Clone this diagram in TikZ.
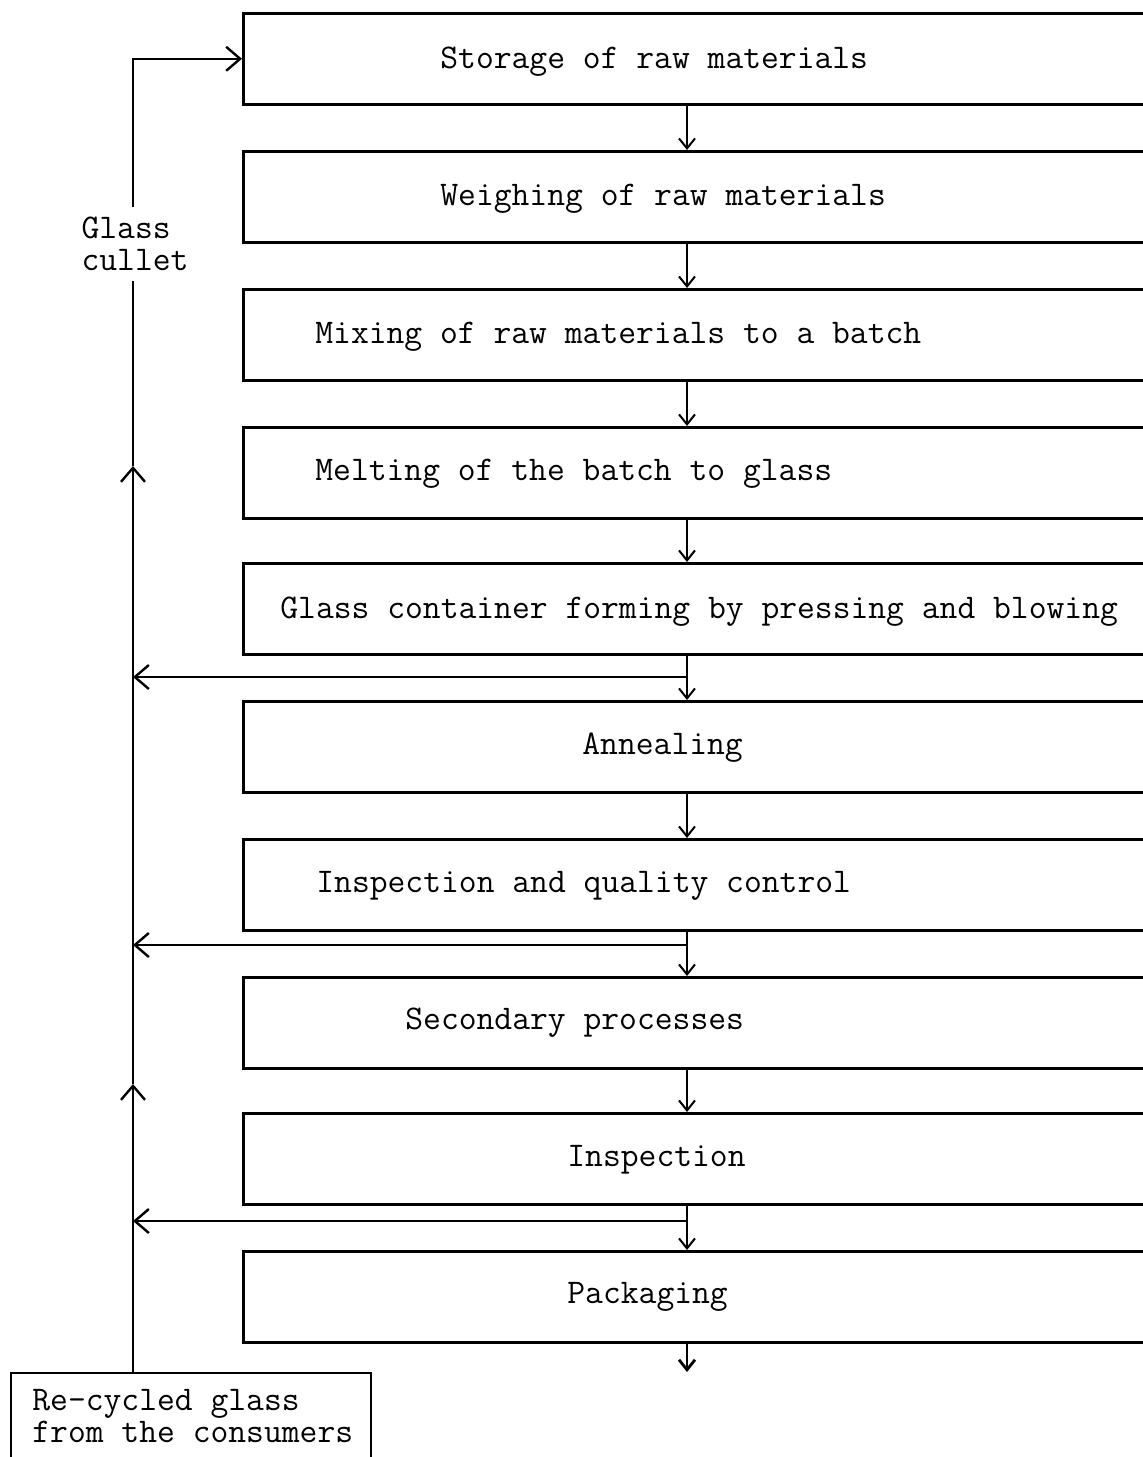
\documentclass[tikz,border=0pt]{standalone}
\usepackage{fontspec}
\usetikzlibrary{arrows.meta}

\tikzset{
    stage/.style={draw, line width=1.3pt, minimum width=504pt, minimum height=45.5pt,
        anchor=north west, inner sep=0pt},
    lbl/.style={font=\ttfamily\fontsize{17.3}{16}\selectfont, anchor=west, inner sep=0pt},
    down/.style={line width=1pt, -{Straight Barb[length=5pt,width=8pt]}},
    back/.style={line width=1.2pt, -{Straight Barb[length=7pt,width=12pt]}},
}

\begin{document}
\begin{tikzpicture}[x=0.5pt,y=-0.5pt]

            \useasboundingbox (0,0) rectangle (1143,1457);
            \clip (0,0) rectangle (1143,1457);

            % process stages, open to the right
            \node[stage] (b1) at (242,12) {};
            \node[lbl] (t1) at (440,62) {Storage of raw materials};
            \node[stage] (b2) at (242,150) {};
            \node[lbl] (t2) at (440,199) {Weighing of raw materials};
            \node[stage] (b3) at (242,288) {};
            \node[lbl] (t3) at (315,337) {Mixing of raw materials to a batch};
            \node[stage] (b4) at (242,426) {};
            \node[lbl] (t4) at (315,474) {Melting of the batch to glass};
            \node[stage] (b5) at (242,562) {};
            \node[lbl] (t5) at (280,612) {Glass container forming by pressing and blowing};
            \node[stage] (b6) at (242,700) {};
            \node[lbl] (t6) at (582,748) {Annealing};
            \node[stage] (b7) at (242,838) {};
            \node[lbl] (t7) at (316,886) {Inspection and quality control};
            \node[stage] (b8) at (242,976) {};
            \node[lbl] (t8) at (405,1023) {Secondary processes};
            \node[stage] (b9) at (242,1112) {};
            \node[lbl] (t9) at (567,1160) {Inspection};
            \node[stage] (b10) at (242,1250) {};
            \node[lbl] (t10) at (567,1297) {Packaging};

            % consumers box, open at the bottom
            \node[draw, line width=1pt, minimum width=180pt, minimum height=60pt,
                anchor=north west, inner sep=0pt] (rc) at (10,1372) {};
            \node[lbl, anchor=north west, align=left] (t11) at (32,1389)
                {Re-cycled glass\\from the consumers};

            \node[lbl, anchor=center, align=left, outer sep=5pt] (gc) at (135,244) {Glass\\cullet};

            \coordinate (ax) at (687,0);
            \coordinate (lx) at (133,0);

            % main flow
            \draw[down] (b1.south -| ax) -- (b2.north -| ax);
            \draw[down] (b2.south -| ax) -- (b3.north -| ax);
            \draw[down] (b3.south -| ax) -- (b4.north -| ax);
            \draw[down] (b4.south -| ax) -- (b5.north -| ax);
            \draw[down] (b5.south -| ax) -- (b6.north -| ax);
            \draw[down] (b6.south -| ax) -- (b7.north -| ax);
            \draw[down] (b7.south -| ax) -- (b8.north -| ax);
            \draw[down] (b8.south -| ax) -- (b9.north -| ax);
            \draw[down] (b9.south -| ax) -- (b10.north -| ax);
            \coordinate (out) at (687,1372);
            \draw[down, line width=1.4pt] (b10.south -| ax) -- (out);

            % rejected glass back to the cullet line
            \coordinate (f1) at (687,677);
            \coordinate (f2) at (687,945);
            \coordinate (f3) at (687,1221);
            \draw[back] (f1) -- (f1 -| lx);
            \draw[back] (f2) -- (f2 -| lx);
            \draw[back] (f3) -- (f3 -| lx);

            % cullet line
            \coordinate (u1) at (133,466);
            \coordinate (u2) at (133,1084);
            \draw[back] (rc.north -| lx) -- (u2);
            \draw[back] (u2) -- (u1);
            \draw[line width=1pt] (u1) -- (gc.south -| lx);
            \draw[back] (gc.north -| lx) |- (b1.west);

\end{tikzpicture}
\end{document}
